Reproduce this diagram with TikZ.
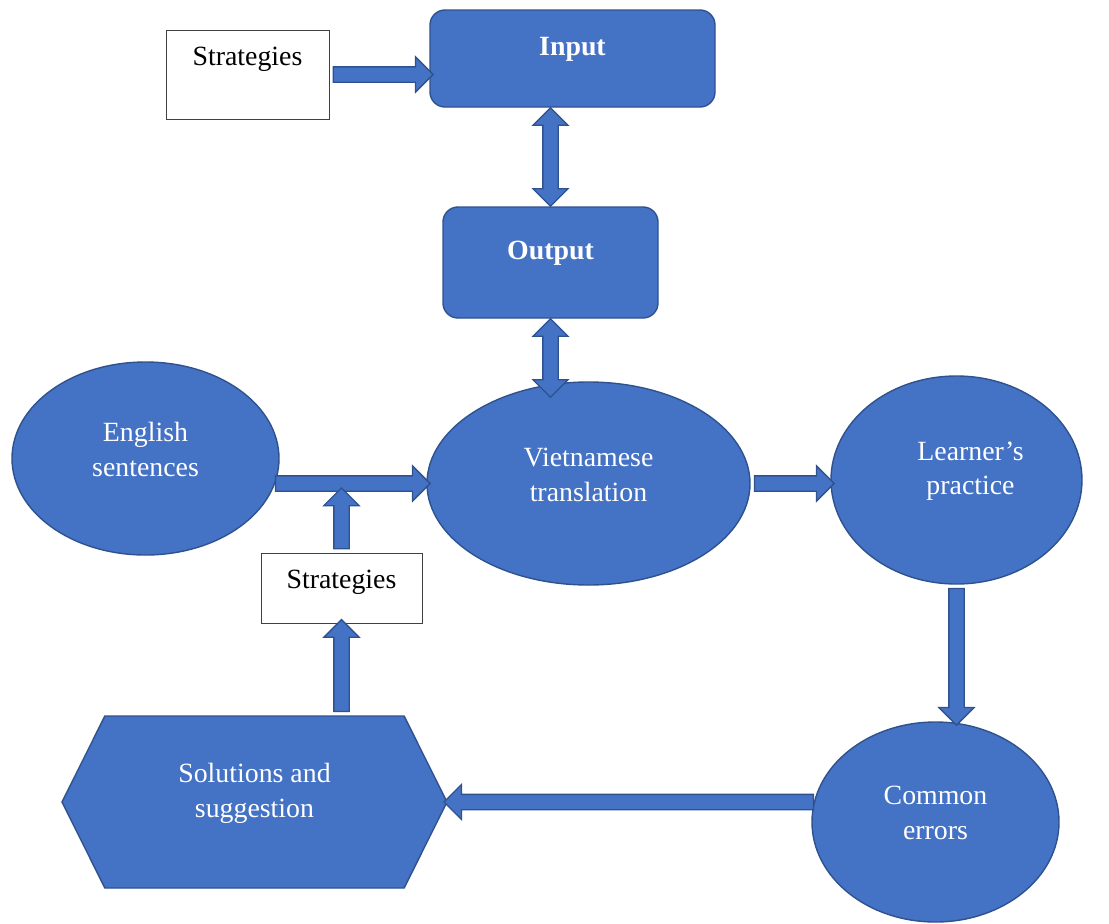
\documentclass[tikz,border=0pt]{standalone}
\usepackage{fontspec}
\setmainfont{Liberation Serif}
\usetikzlibrary{calc,shapes.geometric,shapes.arrows,shapes.symbols}

\definecolor{boxblue}{HTML}{4472C4}
\definecolor{edgeblue}{HTML}{2F528F}

% block arrow between two points
\newcommand\flowarrow[3][single arrow]{%
  \path let \p1=($#3-#2$), \n1={veclen(\x1,\y1)}, \n2={atan2(\y1,\x1)} in
    node[#1, blockarrow, minimum height=\n1, rotate=\n2] at ($#2!0.5!#3$) {};}

\begin{document}
\begin{tikzpicture}[
  x=0.25mm, y=-0.25mm,
  font=\fontsize{19.8}{24.8}\selectfont,
  panel/.style={draw=edgeblue, fill=boxblue, line width=1pt, inner sep=0pt},
  plate/.style={panel, rounded corners=3.75mm},
  bubble/.style={panel, ellipse},
  note/.style={draw=black!75, fill=white, line width=0.6pt, inner sep=0pt},
  captxt/.style={white, align=center, yshift=2.2mm},
  caption/.style={label={[captxt]center:#1}},
  blockarrow/.style={draw=edgeblue, fill=boxblue, line width=0.9pt,
                     inner xsep=0pt, inner ysep=1.75mm, text height=0pt, text depth=0pt,
                     single arrow head extend=2.5mm, double arrow head extend=2.5mm}
]
\useasboundingbox (0,0) rectangle (1109,924);

\node[note, minimum width=40.75mm, minimum height=22.25mm,
      label={[yshift=3.8mm]center:Strategies}]             (stratA)  at (247.5,74.5) {};
\node[plate, minimum width=71.25mm, minimum height=24.25mm,
      caption={\bfseries Input}]                           (input)   at (572.5,58.5) {};
\node[plate, minimum width=53.75mm, minimum height=27.75mm,
      caption={\bfseries Output}]                          (output)  at (550.5,262.5) {};
\node[bubble, minimum width=66.75mm, minimum height=48.25mm,
      caption={English\\sentences}]                        (eng)     at (145.5,458.5) {};
\node[bubble, minimum width=80.75mm, minimum height=50.75mm,
      caption={Vietnamese\\translation}]                   (viet)    at (588.5,483.5) {};
\node[bubble, minimum width=62.75mm, minimum height=52mm,
      label={[captxt, xshift=3.5mm]center:Learner’s\\practice}] (learner) at (956.5,480) {};
\node[bubble, minimum width=61.75mm, minimum height=50mm,
      caption={Common\\errors}]                            (common)  at (935.5,822) {};
\node[panel, signal, signal to=west and east, signal pointer angle=127,
      minimum width=96.25mm, minimum height=43mm,
      caption={Solutions and\\suggestion}]                 (solu)    at (254.5,802) {};
\node[note, minimum width=40.25mm, minimum height=17.5mm,
      label={[yshift=1.5mm]center:Strategies}]             (stratB)  at (341.5,588) {};

\flowarrow{(stratA.east)}{(stratA.east -| input.west)}
\flowarrow[double arrow]{(input.south -| output.north)}{(output.north)}
\flowarrow[double arrow]{(output.south)}{([yshift=-4mm]output.south |- viet.north)}
\flowarrow{([xshift=-2mm]viet.west -| eng.east)}{(viet.west)}
\flowarrow{(stratB.north)}{([yshift=-2.1mm]stratB.north |- viet.west)}
\flowarrow{(viet.east)}{(viet.east -| learner.west)}
\flowarrow{(learner.south)}{(learner.south |- common.north)}
\flowarrow{([xshift=1.5mm]solu.east -| common.west)}{(solu.east)}
\flowarrow{(solu.north -| stratB.south)}{(stratB.south)}
\end{tikzpicture}
\end{document}
